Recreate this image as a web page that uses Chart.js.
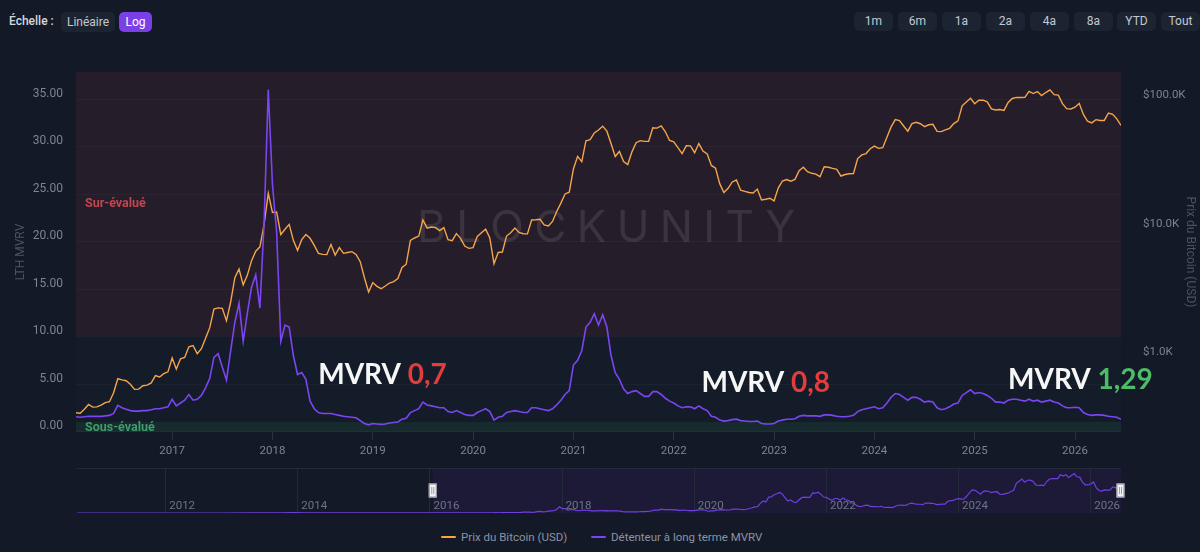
<!DOCTYPE html>
<html lang="fr">
<head>
<meta charset="utf-8">
<title>LTH MVRV et prix du Bitcoin</title>
<script src="https://cdn.jsdelivr.net/npm/chart.js@4.4.1/dist/chart.umd.min.js"></script>
<style>
  html, body { margin: 0; padding: 0; background: #131926; }
  body { width: 1200px; height: 552px; position: relative; overflow: hidden; font-family: Roboto, 'Noto Sans', sans-serif; }
  .scale-label { position: absolute; left: 9px; top: 13px; font-size: 12px; font-weight: 500; color: #d3d7df; line-height: 17px; }
  .btn { position: absolute; border-radius: 5px; background: #1d2431; color: #c3c8d1; font-size: 12px; text-align: center; }
  .btn.on { background: #7b3fe6; color: #fff; }
  .top-left { top: 12px; height: 20px; line-height: 20px; }
  .range { top: 12px; height: 19px; line-height: 19px; width: 39px; }
  canvas { position: absolute; left: 0; }
  #mainChart { top: 40px; }
  #navChart { top: 460px; }
  .leg { position: absolute; top: 529px; font-size: 11.5px; color: #8b93a2; line-height: 16px; white-space: nowrap; }
  .leg i { display: inline-block; width: 15px; height: 2px; border-radius: 1px; vertical-align: middle; margin-right: 5px; position: relative; top: -1px; }
</style>
</head>
<body>
  <span class="scale-label">Échelle :</span>
  <div class="btn top-left" style="left:61px;width:54px">Linéaire</div>
  <div class="btn top-left on" style="left:119px;width:33px">Log</div>

  <div class="btn range" style="left:854px">1m</div>
  <div class="btn range" style="left:898px">6m</div>
  <div class="btn range" style="left:942px">1a</div>
  <div class="btn range" style="left:986px">2a</div>
  <div class="btn range" style="left:1030px">4a</div>
  <div class="btn range" style="left:1074px">8a</div>
  <div class="btn range" style="left:1117px">YTD</div>
  <div class="btn range" style="left:1161px">Tout</div>

  <canvas id="mainChart" width="1200" height="425"></canvas>
  <canvas id="navChart" width="1200" height="60"></canvas>

  <div class="leg" style="left:441px"><i style="background:#f5a54b"></i>Prix du Bitcoin (USD)</div>
  <div class="leg" style="left:591px"><i style="background:#7b45f2"></i>Détenteur à long terme MVRV</div>

<script>
// Semi-monthly samples: 15th then 1st of the next month, from 15 Jan 2016.
// One line per year: Jan15, Feb1, Feb15, ... Dec15, Jan1(next year)
const FIRST_YEAR = 2016;
const POINTS_PER_YEAR = 24;

const priceUsd = [
  375, 372, 400, 435, 415, 417, 430, 450, 457, 537, 690, 675, 665, 625, 570, 573, 608, 615, 640, 730, 712, 755, 780, 1000,             // 2016
  820, 985, 1010, 1220, 1250, 1080, 1180, 1420, 1720, 2400, 2450, 2430, 1950, 2720, 4200, 4900, 3700, 4400, 5700, 6750, 7300, 10900, 19000, 13500, // 2017
  13600, 9100, 10000, 10900, 8200, 6850, 8300, 9100, 8500, 7500, 6500, 6380, 6350, 7600, 6300, 7200, 6500, 6600, 6700, 6370, 5600, 4200, 3250, 3850, // 2018
  3600, 3450, 3620, 3820, 3920, 4140, 5050, 5350, 8200, 8550, 8850, 11800, 10200, 10400, 10300, 9750, 10300, 8300, 8150, 9250, 8500, 7400, 7100, 7200, // 2019
  8800, 9400, 10000, 8550, 5400, 6600, 6650, 8850, 9400, 10200, 9450, 9230, 9200, 11800, 11850, 11950, 10800, 10600, 11500, 13750, 15950, 18800, 19400, 29400, // 2020
  36800, 33500, 48700, 49600, 56000, 59000, 63200, 57800, 46400, 36700, 40200, 33600, 31800, 39900, 47000, 48800, 48100, 48200, 61500, 61000, 63600, 57200, 48900, 47700, // 2021
  43100, 38700, 44500, 44400, 39300, 46300, 40500, 38500, 31300, 29800, 22600, 19300, 20800, 23300, 24100, 20100, 19700, 19300, 19100, 20500, 16900, 17100, 17400, 16600, // 2022
  20900, 23700, 24300, 23600, 24400, 28500, 30300, 28000, 27200, 26800, 25600, 30600, 30300, 29700, 29200, 25900, 26600, 27000, 27100, 35400, 37800, 38700, 42200, 44200, // 2023
  42500, 43000, 51900, 62400, 71000, 69700, 63400, 57800, 66200, 67800, 66000, 62700, 64800, 65300, 57500, 57300, 59200, 60800, 66100, 69500, 91000, 97200, 104000, 94400, // 2024
  100500, 100600, 97600, 86000, 84300, 85200, 83700, 96500, 103700, 105800, 105500, 105700, 117800, 113300, 117400, 109200, 115300, 121000, 111000, 110000, 94500, 86500, 86000, 88700, // 2025
  95000, 78000, 69000, 67000, 71000, 70000, 70000, 80000, 78000, 72000, 64000                                                          // 2026
];

const lthMvrv = [
  1.55, 1.5, 1.55, 1.6, 1.6, 1.6, 1.6, 1.65, 1.7, 1.9, 2.75, 2.5, 2.35, 2.2, 2.15, 2.15, 2.2, 2.2, 2.3, 2.4, 2.4, 2.5, 2.6, 3.4,   // 2016
  2.7, 3.0, 3.3, 3.9, 3.3, 3.4, 3.8, 4.6, 5.6, 7.8, 8.2, 6.8, 5.4, 8.5, 11.5, 13.5, 9.5, 12.5, 15.2, 16.5, 13.0, 22, 36, 26,          // 2017
  21, 9.5, 11.2, 11.0, 8.0, 6.0, 6.2, 5.5, 3.2, 2.4, 2.0, 1.9, 1.9, 1.9, 1.8, 1.7, 1.6, 1.55, 1.5, 1.45, 1.15, 0.85, 0.7, 0.85,     // 2018
  0.8, 0.75, 0.8, 0.9, 0.95, 1.0, 1.3, 1.4, 2.0, 2.2, 2.4, 3.1, 2.8, 2.7, 2.6, 2.5, 2.5, 2.1, 2.0, 2.2, 2.0, 1.8, 1.7, 1.7,        // 2019
  2.0, 2.2, 2.4, 2.1, 1.2, 1.5, 1.6, 2.0, 2.1, 2.2, 2.1, 2.0, 2.0, 2.5, 2.5, 2.4, 2.3, 2.2, 2.4, 2.8, 3.3, 3.9, 4.3, 7.0,           // 2020
  7.5, 8.5, 11.0, 11.5, 12.4, 11.2, 12.3, 11.0, 8.0, 6.2, 5.5, 4.5, 4.0, 4.2, 4.3, 4.0, 3.7, 3.7, 4.2, 4.2, 3.9, 3.5, 3.2, 3.0,    // 2021
  2.7, 2.5, 2.6, 2.6, 2.4, 2.7, 2.4, 2.2, 1.6, 1.5, 1.2, 1.1, 1.15, 1.25, 1.3, 1.15, 1.1, 1.05, 1.05, 1.1, 0.85, 0.8, 0.8, 0.85,   // 2022
  1.1, 1.2, 1.3, 1.3, 1.35, 1.6, 1.7, 1.65, 1.65, 1.65, 1.6, 1.75, 1.75, 1.7, 1.6, 1.55, 1.55, 1.6, 1.7, 2.1, 2.3, 2.4, 2.5, 2.6,  // 2023
  2.4, 2.5, 3.0, 3.6, 4.0, 3.9, 3.6, 3.3, 3.6, 3.6, 3.4, 3.1, 3.2, 3.1, 2.5, 2.3, 2.4, 2.6, 2.9, 3.0, 3.8, 4.1, 4.4, 4.0,          // 2024
  4.1, 4.0, 3.8, 3.5, 3.1, 3.1, 3.0, 3.3, 3.4, 3.4, 3.3, 3.2, 3.4, 3.2, 3.3, 3.1, 3.2, 3.3, 3.1, 3.0, 2.7, 2.5, 2.5, 2.55,         // 2025
  2.5, 2.0, 1.8, 1.7, 1.75, 1.75, 1.7, 1.6, 1.55, 1.5, 1.29                                                                       // 2026
];

// older price history, only shown in the navigator
const earlyYears = [2010.65, 2010.9, 2011.1, 2011.45, 2011.7, 2011.95, 2012.3, 2012.6, 2012.9, 2013.25, 2013.5, 2013.75, 2013.93, 2014.1, 2014.3, 2014.5, 2014.75, 2015.0, 2015.25, 2015.5, 2015.75, 2015.93];
const earlyPrice = [0.07, 0.25, 0.9, 17, 5, 3.5, 5, 10, 12.5, 140, 90, 130, 1000, 800, 450, 620, 380, 315, 240, 260, 240, 430];

const yearTicks = [2017, 2018, 2019, 2020, 2021, 2022, 2023, 2024, 2025, 2026];
const navYearTicks = [2012, 2014, 2016, 2018, 2020, 2022, 2024, 2026];
const mvrvTicks = [0, 5, 10, 15, 20, 25, 30, 35];
const priceTicks = [1000, 10000, 100000];

const OVERVALUED_FROM = 10;
const UNDERVALUED_BELOW = 1;

// text callouts anchored in (year, MVRV) units: left edge / baseline
const callouts = [
  { x: 2018.456, y: 5.0, value: '0,7', color: '#e23d3d' },
  { x: 2022.276, y: 4.19, value: '0,8', color: '#e23d3d' },
  { x: 2025.332, y: 4.48, value: '1,29', color: '#4cbd66' }
];

const ORANGE = '#f5a54b';
const PURPLE = '#7b45f2';

/* ---------------------------------------------------------------- */

const dates = lthMvrv.map((_, i) => FIRST_YEAR + (i + 1) / POINTS_PER_YEAR);
const VIEW_MIN = dates[0], VIEW_MAX = dates[dates.length - 1];

Chart.defaults.font.family = "Roboto, 'Noto Sans', sans-serif";
Chart.defaults.color = '#7c8495';

const zonesPlugin = {
  id: 'zones',
  beforeDraw(chart) {
    const { ctx, chartArea: a, scales: { yMvrv } } = chart;
    const yHigh = yMvrv.getPixelForValue(OVERVALUED_FROM);
    const yLow = yMvrv.getPixelForValue(UNDERVALUED_BELOW);
    ctx.save();
    ctx.fillStyle = '#251d29';
    ctx.fillRect(a.left, a.top, a.width, yHigh - a.top);
    ctx.fillStyle = '#141b29';
    ctx.fillRect(a.left, yHigh, a.width, yLow - yHigh);
    ctx.fillStyle = '#172a2d';
    ctx.fillRect(a.left, yLow, a.width, a.bottom - yLow);
    ctx.restore();
  },
  beforeDatasetsDraw(chart) {
    const { ctx, chartArea: a, scales: { yMvrv } } = chart;
    const yHigh = yMvrv.getPixelForValue(OVERVALUED_FROM);
    const yLow = yMvrv.getPixelForValue(UNDERVALUED_BELOW);
    ctx.save();
    // watermark
    const mark = 'BLOCKUNITY';
    ctx.font = '400 44px Inter';
    ctx.letterSpacing = '0px';
    const w0 = ctx.measureText(mark).width;
    ctx.letterSpacing = ((378 - w0) / (mark.length - 1)) + 'px';
    ctx.fillStyle = 'rgba(255,255,255,0.1)';
    ctx.textBaseline = 'alphabetic';
    ctx.fillText(mark, a.left + 341, a.top + 169.5);
    ctx.letterSpacing = '0px';
    // zone labels
    ctx.font = '700 12.5px Roboto';
    ctx.textBaseline = 'middle';
    ctx.fillStyle = '#c0464f';
    ctx.fillText('Sur-évalué', a.left + 9, (a.top + yHigh) / 2);
    ctx.fillStyle = '#3e9e6c';
    ctx.fillText('Sous-évalué', a.left + 9, (yLow + a.bottom) / 2 + 0.5);
    ctx.restore();
  },
  afterDatasetsDraw(chart) {
    const { ctx, scales: { x, yMvrv } } = chart;
    ctx.save();
    ctx.font = '700 28px Lato';
    ctx.textBaseline = 'alphabetic';
    callouts.forEach(c => {
      const px = x.getPixelForValue(c.x), py = yMvrv.getPixelForValue(c.y);
      ctx.fillStyle = '#f6f6f6';
      ctx.fillText('MVRV ', px, py);
      ctx.fillStyle = c.color;
      ctx.fillText(c.value, px + ctx.measureText('MVRV ').width, py);
    });
    ctx.restore();
  }
};

new Chart(document.getElementById('mainChart'), {
  type: 'line',
  data: {
    datasets: [
      {
        label: 'Détenteur à long terme MVRV',
        data: lthMvrv.map((v, i) => ({ x: dates[i], y: v })),
        yAxisID: 'yMvrv',
        borderColor: PURPLE, borderWidth: 1.6,
        pointRadius: 0, tension: 0, order: 0
      },
      {
        label: 'Prix du Bitcoin (USD)',
        data: priceUsd.map((v, i) => ({ x: dates[i], y: v })),
        yAxisID: 'yPrice',
        borderColor: ORANGE, borderWidth: 1.4,
        pointRadius: 0, tension: 0, order: 1
      }
    ]
  },
  options: {
    responsive: false, animation: false, events: [],
    layout: { padding: { top: 32, left: 0, right: 0, bottom: 0 } },
    plugins: { legend: { display: false }, tooltip: { enabled: false } },
    scales: {
      x: {
        type: 'linear', min: VIEW_MIN, max: VIEW_MAX,
        afterBuildTicks: s => { s.ticks = yearTicks.map(v => ({ value: v })); },
        afterFit: s => { s.height = 33; },
        ticks: { callback: v => String(v), padding: 4, maxRotation: 0, color: '#7c8495', font: { size: 11.5 } },
        grid: { drawOnChartArea: false, drawTicks: true, tickLength: 8, color: '#2a3141' },
        border: { display: false }
      },
      yMvrv: {
        type: 'linear', position: 'left', min: -0.05, max: 37.85,
        afterBuildTicks: s => { s.ticks = mvrvTicks.map(v => ({ value: v })); },
        afterFit: s => { s.width = 76; },
        ticks: { callback: v => v.toFixed(2), padding: 13, labelOffset: -5.5, font: { size: 12 } },
        grid: { color: 'rgba(255,255,255,0.035)', drawTicks: false },
        border: { display: false },
        title: { display: true, text: 'LTH MVRV', color: '#4a5264', font: { size: 12 }, padding: { top: 13.8 } }
      },
      yPrice: {
        type: 'logarithmic', position: 'right', min: 266, max: 166500,
        afterBuildTicks: s => { s.ticks = priceTicks.map(v => ({ value: v })); },
        afterFit: s => { s.width = 79; },
        ticks: { callback: v => '$' + (v / 1000).toFixed(1) + 'K', padding: 14, labelOffset: -5.5, font: { size: 11.5 } },
        grid: { display: false },
        border: { display: false },
        title: { display: true, text: 'Prix du Bitcoin (USD)', color: '#4a5264', font: { size: 12 }, padding: { top: 2.8 } }
      }
    }
  },
  plugins: [zonesPlugin]
});

/* ---------------- navigator ---------------- */
const NAV_MIN = 2010.653, NAV_MAX = VIEW_MAX;
const navPoints = earlyYears.map((t, i) => ({ x: t, y: earlyPrice[i] }))
  .concat(priceUsd.map((v, i) => ({ x: dates[i], y: v })));

function drawHandle(ctx, x, cy) {
  ctx.fillStyle = '#f1f1f3';
  ctx.fillRect(x - 4, cy - 7, 8, 14);
  ctx.strokeStyle = '#8b909a';
  ctx.lineWidth = 1;
  ctx.strokeRect(x - 3.5, cy - 6.5, 7, 13);
  ctx.strokeStyle = '#9ba0aa';
  ctx.beginPath();
  ctx.moveTo(x - 1, cy - 3.5); ctx.lineTo(x - 1, cy + 3.5);
  ctx.moveTo(x + 1, cy - 3.5); ctx.lineTo(x + 1, cy + 3.5);
  ctx.stroke();
}

const navigatorPlugin = {
  id: 'navigator',
  beforeDraw(chart) {
    const { ctx, chartArea: a, scales: { x } } = chart;
    const sx = x.getPixelForValue(VIEW_MIN);
    ctx.save();
    ctx.fillStyle = '#1c1a37';
    ctx.fillRect(sx, a.top, a.right - sx, a.bottom - a.top);
    ctx.restore();
  },
  afterDraw(chart) {
    const { ctx, chartArea: a, scales: { x } } = chart;
    ctx.save();
    ctx.strokeStyle = '#232a39';
    ctx.lineWidth = 1;
    ctx.beginPath();
    ctx.moveTo(a.left, a.top + 0.5); ctx.lineTo(a.right, a.top + 0.5);
    ctx.stroke();
    ctx.font = '11.5px Roboto';
    ctx.fillStyle = '#6d7584';
    ctx.textBaseline = 'middle';
    navYearTicks.forEach(y => ctx.fillText(String(y), x.getPixelForValue(y) + 3.5, a.bottom - 7));
    const cy = (a.top + a.bottom) / 2;
    drawHandle(ctx, x.getPixelForValue(VIEW_MIN), cy);
    drawHandle(ctx, x.getPixelForValue(VIEW_MAX) - 0.5, cy);
    ctx.restore();
  }
};

new Chart(document.getElementById('navChart'), {
  type: 'line',
  data: {
    datasets: [{
      data: navPoints,
      borderColor: '#6f3fe0', borderWidth: 1.2,
      pointRadius: 0, tension: 0
    }]
  },
  options: {
    responsive: false, animation: false, events: [],
    layout: { padding: { left: 76.7, right: 79, top: 8, bottom: 7 } },
    plugins: { legend: { display: false }, tooltip: { enabled: false } },
    scales: {
      x: {
        type: 'linear', min: NAV_MIN, max: NAV_MAX,
        afterBuildTicks: s => { s.ticks = navYearTicks.map(v => ({ value: v })); },
        ticks: { display: false },
        grid: { color: '#232a39', drawTicks: false },
        border: { display: false }
      },
      y: { display: false, min: 0, max: 138000 }
    }
  },
  plugins: [navigatorPlugin]
});
</script>
</body>
</html>
